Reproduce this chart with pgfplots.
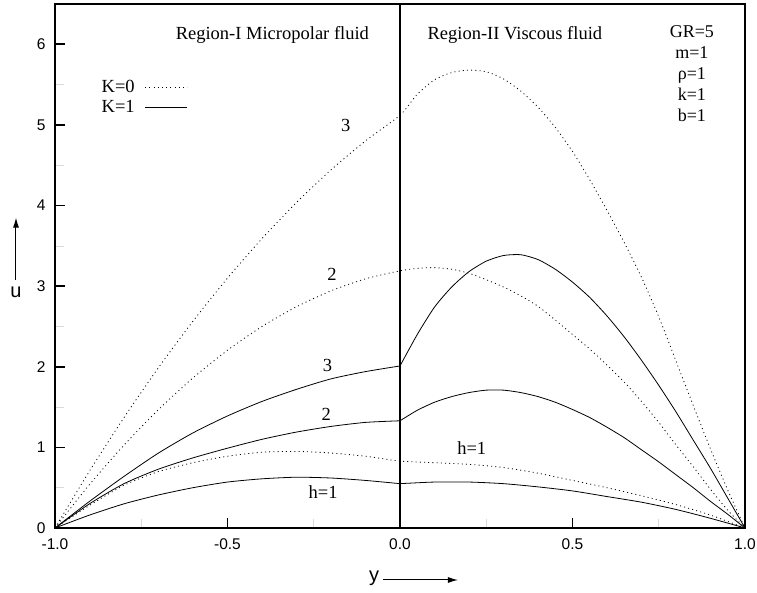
\documentclass[border=0pt]{standalone}
\usepackage{fontspec}
\setmainfont{Liberation Serif}
\setsansfont{Liberation Sans}
\usepackage{pgfplots}
\pgfplotsset{compat=1.18}
\usetikzlibrary{calc,arrows.meta}

\begin{document}
\begin{tikzpicture}
\begin{axis}[name=ax, width=690pt, height=524pt, scale only axis,
 xmin=-1, xmax=1, ymin=0, ymax=6.5,
 xtick={-1,-0.5,0,0.5,1}, xticklabels={-1.0,-0.5,0.0,0.5,1.0},
 ytick={0,1,2,3,4,5,6},
 tick pos=left, tick align=inside, major tick length=10pt,
 minor x tick num=1, minor y tick num=1, minor tick length=9pt,
 every minor tick/.style={gray!30, line width=0.6pt},
 axis line style={line width=1.6pt},
 every major tick/.style={line width=1.6pt, black},
 tick label style={font=\fontsize{15.5}{17}\selectfont\sffamily},
 yticklabel style={xshift=-6pt},
 xticklabel style={yshift=-7pt},
 /pgf/number format/assume math mode=true,
 legend plot pos=right,
 legend cell align=left,
 legend style={at={(rel axis cs:0.063,0.860)}, anchor=north west, draw=none, fill=none,
   font=\fontsize{18.5}{20}\selectfont, row sep=2pt, inner sep=1pt, /tikz/column sep=8pt},
 legend image code/.code={\draw[#1] (0pt,0pt) -- (42pt,0pt);},
 every axis plot/.append style={black, line width=0.8pt},
 clip=false,
]
\addlegendimage{black, line width=1pt, dash pattern=on 1pt off 3.2pt}
\addlegendentry{K=0}
\addlegendimage{black, line width=0.9pt}
\addlegendentry{K=1}

% K=0 (dotted)
\addplot[forget plot, smooth, tension=0.4, dash pattern=on 1pt off 3.2pt] coordinates {
(-1,0) (-0.9,0.706) (-0.8,1.370) (-0.7,1.990) (-0.6,2.566) (-0.5,3.100) (-0.4,3.590)
(-0.3,4.038) (-0.2,4.442) (-0.1,4.802) (0,5.12) (0.05,5.38) (0.1,5.56) (0.15,5.65)
(0.2,5.68) (0.25,5.66) (0.3,5.57) (0.35,5.42) (0.4,5.22) (0.45,4.97) (0.5,4.67)
(0.55,4.32) (0.6,3.94) (0.65,3.54) (0.7,3.11) (0.75,2.62) (0.8,2.07) (0.85,1.52)
(0.9,0.98) (0.95,0.47) (1,0)};
\addplot[forget plot, smooth, tension=0.4, dash pattern=on 1pt off 3.2pt] coordinates {
(-1,0) (-0.9,0.539) (-0.8,1.028) (-0.7,1.469) (-0.6,1.862) (-0.5,2.205) (-0.4,2.500)
(-0.3,2.745) (-0.2,2.942) (-0.1,3.091) (0,3.19) (0.05,3.22) (0.1,3.23) (0.15,3.21)
(0.2,3.16) (0.25,3.08) (0.3,2.99) (0.35,2.88) (0.4,2.75) (0.45,2.58) (0.5,2.40)
(0.55,2.22) (0.6,2.02) (0.65,1.81) (0.7,1.57) (0.75,1.31) (0.8,1.03) (0.85,0.76)
(0.9,0.48) (0.95,0.22) (1,0)};
\addplot[forget plot, smooth, tension=0.4, dash pattern=on 1pt off 3.2pt] coordinates {
(-1,0) (-0.9,0.28) (-0.8,0.53) (-0.7,0.70) (-0.6,0.81) (-0.5,0.89) (-0.4,0.94)
(-0.3,0.95) (-0.2,0.93) (-0.1,0.89) (0,0.83) (0.1,0.81) (0.2,0.79) (0.3,0.75)
(0.4,0.68) (0.5,0.59) (0.6,0.50) (0.7,0.40) (0.8,0.29) (0.9,0.16) (1,0)};

% K=1 (solid), region I
\addplot[forget plot, smooth, tension=0.4] coordinates {
(-1,0) (-0.9,0.33) (-0.8,0.64) (-0.7,0.93) (-0.6,1.18) (-0.5,1.39) (-0.4,1.57)
(-0.3,1.72) (-0.2,1.85) (-0.1,1.94) (0,2.01)};
\addplot[forget plot, smooth, tension=0.4] coordinates {
(-1,0) (-0.9,0.30) (-0.8,0.55) (-0.7,0.73) (-0.6,0.87) (-0.5,0.99) (-0.4,1.10)
(-0.3,1.19) (-0.2,1.26) (-0.1,1.31) (0,1.33)};
\addplot[forget plot, smooth, tension=0.4] coordinates {
(-1,0) (-0.9,0.16) (-0.8,0.30) (-0.7,0.41) (-0.6,0.50) (-0.5,0.57) (-0.4,0.61)
(-0.3,0.63) (-0.2,0.62) (-0.1,0.59) (0,0.55)};
% K=1 (solid), region II
\addplot[forget plot, smooth, tension=0.4] coordinates {
(0,2.01) (0.05,2.40) (0.1,2.74) (0.15,2.99) (0.2,3.18) (0.25,3.31) (0.3,3.38)
(0.35,3.39) (0.4,3.33) (0.45,3.21) (0.5,3.05) (0.55,2.86) (0.6,2.63) (0.65,2.37)
(0.7,2.08) (0.75,1.77) (0.8,1.44) (0.85,1.09) (0.9,0.74) (0.95,0.37) (1,0)};
\addplot[forget plot, smooth, tension=0.4] coordinates {
(0,1.33) (0.05,1.46) (0.1,1.56) (0.15,1.63) (0.2,1.68) (0.25,1.71) (0.3,1.71)
(0.35,1.68) (0.4,1.63) (0.45,1.56) (0.5,1.47) (0.55,1.37) (0.6,1.25) (0.65,1.12)
(0.7,0.97) (0.75,0.82) (0.8,0.66) (0.85,0.50) (0.9,0.33) (0.95,0.17) (1,0)};
\addplot[forget plot, smooth, tension=0.4] coordinates {
(0,0.55) (0.1,0.57) (0.2,0.57) (0.3,0.55) (0.4,0.51) (0.5,0.46) (0.6,0.39)
(0.7,0.32) (0.8,0.23) (0.9,0.12) (1,0)};

% interface line
\addplot[forget plot, line width=1.6pt] coordinates {(0,0) (0,6.5)};

% annotations
\begin{scope}[font=\fontsize{18.5}{20}\selectfont]
\node at (axis cs:-0.37,6.12) {Region-I Micropolar fluid};
\node at (axis cs:0.333,6.11) {Region-II Viscous fluid};
\node[align=center, font=\fontsize{18}{21}\selectfont] at (axis cs:0.846,5.63) {GR=5\\m=1\\ρ=1\\k=1\\b=1};
\node at (axis cs:-0.157,4.99) {3};
\node at (axis cs:-0.197,3.15) {2};
\node at (axis cs:-0.21,2.01) {3};
\node at (axis cs:-0.214,1.41) {2};
\node at (axis cs:-0.223,0.45) {h=1};
\node at (axis cs:0.208,0.99) {h=1};
\end{scope}

% axis labels with arrows
\draw[-{Latex[length=10pt,width=6pt]}, line width=1pt] ([xshift=-39pt]axis cs:-1,3.08) -- ([xshift=-39pt]axis cs:-1,3.85);
\node[font=\fontsize{20}{22}\selectfont\sffamily] at ([xshift=-39pt]axis cs:-1,2.92) {u};
\node[anchor=base, font=\fontsize{20}{22}\selectfont\sffamily] at ([yshift=-54pt]axis cs:-0.075,0) {y};
\draw[-{Latex[length=10pt,width=6pt]}, line width=1pt] ([yshift=-52pt]axis cs:-0.049,0) -- ([yshift=-52pt]axis cs:0.168,0);
\end{axis}
\pgfresetboundingbox
\path[use as bounding box] ($(ax.south west)+(-55pt,-65pt)$) rectangle ($(ax.north east)+(12pt,4pt)$);
\end{tikzpicture}
\end{document}
